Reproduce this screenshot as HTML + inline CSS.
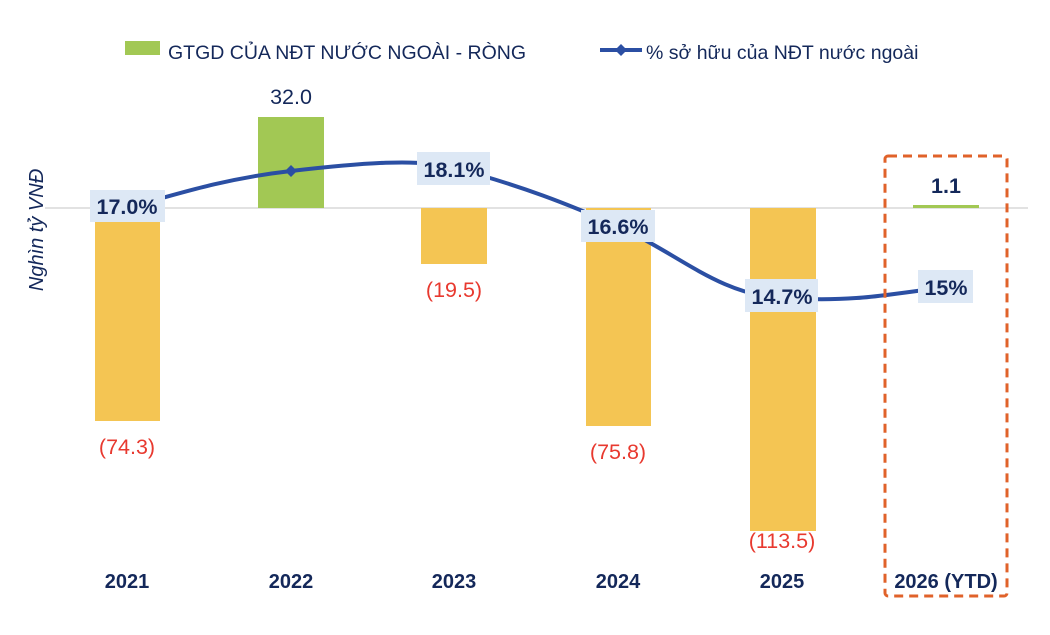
<!DOCTYPE html>
<html><head><meta charset="utf-8"><style>
body{margin:0;background:#fff;}
svg text{font-family:"Liberation Sans",sans-serif;}
</style></head><body>
<svg width="1050" height="630" viewBox="0 0 1050 630" xmlns="http://www.w3.org/2000/svg">
<rect width="1050" height="630" fill="#fff"/>
<!-- legend -->
<rect x="125" y="41" width="35" height="14" fill="#A2C854"/>
<text x="168" y="59" font-size="19.5" fill="#14285A">GTGD CỦA NĐT NƯỚC NGOÀI - RÒNG</text>
<line x1="600" y1="50" x2="642" y2="50" stroke="#2B4FA3" stroke-width="4"/>
<path d="M621 44 L627 50 L621 56 L615 50Z" fill="#2B4FA3"/>
<text x="646" y="59" font-size="19.5" fill="#14285A">% sở hữu của NĐT nước ngoài</text>
<!-- y title -->
<text transform="translate(43,230) rotate(-90)" text-anchor="middle" font-size="20" font-style="italic" fill="#14285A">Nghìn tỷ VNĐ</text>
<!-- zero line -->
<line x1="45" y1="208" x2="1028" y2="208" stroke="#D9D9D9" stroke-width="1.5"/>
<!-- bars -->
<rect x="95" y="208" width="65" height="213" fill="#F4C553"/>
<rect x="258" y="117" width="66" height="91" fill="#A2C854"/>
<rect x="421" y="208" width="66" height="56" fill="#F4C553"/>
<rect x="586" y="208" width="65" height="218" fill="#F4C553"/>
<rect x="750" y="208" width="66" height="323" fill="#F4C553"/>
<rect x="913" y="205" width="66" height="3" fill="#A2C854"/>
<!-- bar labels -->
<g font-size="21.5" text-anchor="middle">
<text x="127" y="454" fill="#E8392F">(74.3)</text>
<text x="291" y="104" fill="#14285A">32.0</text>
<text x="454" y="297" fill="#E8392F">(19.5)</text>
<text x="618" y="459" fill="#E8392F">(75.8)</text>
<text x="782" y="548" fill="#E8392F">(113.5)</text>
<text x="946" y="193" fill="#14285A" font-weight="bold">1.1</text>
</g>
<!-- line -->
<path d="M127 208 C190 190,230 178,291 171 C360 163,420 158,454 168 C520 185,570 205,618 226 C680 255,720 295,782 298 C850 302,880 296,946 287" fill="none" stroke="#2B4FA3" stroke-width="4"/>
<path d="M291 165 L297 171 L291 177 L285 171Z" fill="#2B4FA3"/>
<!-- line labels -->
<g font-size="21.5" font-weight="bold" fill="#14285A" text-anchor="middle">
<rect x="90" y="190" width="75" height="32" fill="#DDE8F5"/><text x="127" y="214">17.0%</text>
<rect x="417" y="152" width="73" height="33" fill="#DDE8F5"/><text x="454" y="177">18.1%</text>
<rect x="581" y="210" width="74" height="32" fill="#DDE8F5"/><text x="618" y="234">16.6%</text>
<rect x="745" y="279" width="73" height="33" fill="#DDE8F5"/><text x="782" y="304">14.7%</text>
<rect x="918" y="270" width="55" height="33" fill="#DDE8F5"/><text x="946" y="295">15%</text>
</g>
<!-- dashed box -->
<rect x="885" y="156" width="122" height="440" rx="3" fill="none" stroke="#E0622A" stroke-width="3" stroke-dasharray="9,6"/>
<!-- years -->
<g font-size="20" font-weight="bold" fill="#14285A" text-anchor="middle">
<text x="127" y="588">2021</text>
<text x="291" y="588">2022</text>
<text x="454" y="588">2023</text>
<text x="618" y="588">2024</text>
<text x="782" y="588">2025</text>
<text x="946" y="588">2026 (YTD)</text>
</g>
</svg>
</body></html>
